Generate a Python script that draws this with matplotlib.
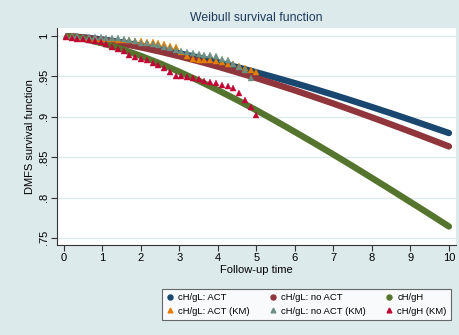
import matplotlib
matplotlib.use("Agg")
import matplotlib.pyplot as plt
from matplotlib.lines import Line2D

plt.rcParams['font.family'] = ['Liberation Sans', 'DejaVu Sans']

# fitted Weibull survival, read at half-year steps
wb_time = [0.1, 0.5, 1.0, 1.5, 2.0, 2.5, 3.0, 3.5, 4.0, 4.5, 5.0,
           5.5, 6.0, 6.5, 7.0, 7.5, 8.0, 8.5, 9.0, 9.5, 10.0]
wb_act = [1.000, 0.9985, 0.9958, 0.9923, 0.9882, 0.9837, 0.9787, 0.9733, 0.9675, 0.9615, 0.9551,
          0.9485, 0.9417, 0.9346, 0.9273, 0.9198, 0.9121, 0.9043, 0.8963, 0.8881, 0.8799]
wb_noact = [1.000, 0.9982, 0.9949, 0.9908, 0.9861, 0.9808, 0.9750, 0.9688, 0.9622, 0.9552, 0.9480,
            0.9404, 0.9327, 0.9246, 0.9164, 0.9079, 0.8993, 0.8905, 0.8816, 0.8725, 0.8633]
wb_gh = [0.9997, 0.9968, 0.9911, 0.9839, 0.9754, 0.9660, 0.9557, 0.9447, 0.9330, 0.9208, 0.9081,
         0.8949, 0.8813, 0.8674, 0.8533, 0.8389, 0.8242, 0.8094, 0.7944, 0.7794, 0.7641]

# Kaplan-Meier estimates
km_time = [0.05, 0.20, 0.35, 0.50, 0.65, 0.80, 0.95, 1.10, 1.25, 1.40, 1.55, 1.70,
           1.85, 2.00, 2.15, 2.30, 2.45, 2.60, 2.75, 2.90, 3.05, 3.20, 3.35, 3.50,
           3.65, 3.80, 3.95, 4.10, 4.25, 4.40, 4.55, 4.70, 4.85, 5.00]
km_act = [1.000, 1.000, 0.999, 0.998, 0.998, 0.997, 0.997, 0.996, 0.996, 0.995, 0.995, 0.995,
          0.994, 0.994, 0.993, 0.993, 0.991, 0.990, 0.988, 0.986, 0.980, 0.975, 0.972, 0.971,
          0.970, 0.970, 0.969, 0.968, 0.966, 0.965, 0.963, 0.961, 0.958, 0.955]
km_noact = [1.000, 1.000, 1.000, 0.999, 0.999, 0.999, 0.999, 0.998, 0.998, 0.998, 0.997, 0.995,
            0.994, 0.992, 0.991, 0.990, 0.989, 0.987, 0.985, 0.983, 0.981, 0.980, 0.979, 0.978,
            0.977, 0.976, 0.975, 0.972, 0.970, 0.966, 0.962, 0.958, 0.948]
km_gh = [0.999, 0.998, 0.997, 0.996, 0.995, 0.994, 0.993, 0.990, 0.987, 0.984, 0.981, 0.977,
         0.974, 0.972, 0.970, 0.967, 0.964, 0.960, 0.955, 0.951, 0.950, 0.949, 0.948, 0.947,
         0.945, 0.943, 0.942, 0.940, 0.938, 0.936, 0.930, 0.921, 0.912, 0.902]

xticks = [0, 1, 2, 3, 4, 5, 6, 7, 8, 9, 10]
yticks = [0.75, 0.8, 0.85, 0.9, 0.95, 1.0]
ytick_labels = ['.75', '.8', '.85', '.9', '.95', '1']

navy = '#1A476F'
maroon = '#90353B'
green = '#55752F'
orange = '#E37E00'
teal = '#6E8E84'
cranberry = '#C10534'
bg = '#DDEAEC'

fig = plt.figure(figsize=(4.6, 3.35), dpi=100, facecolor=bg)
ax = fig.add_axes([0.124, 0.269, 0.867, 0.647])
ax.set_facecolor('white')

lw = 4.6
for y, c in [(wb_act, navy), (wb_noact, maroon), (wb_gh, green)]:
    ax.plot(wb_time, y, color=c, lw=lw, solid_capstyle='round', solid_joinstyle='round', zorder=3)

for y, c in [(km_act, orange), (km_noact, teal), (km_gh, cranberry)]:
    ax.plot(km_time[:len(y)], y, ls='none', marker='^', ms=4.6, color=c, mec=c, mew=0.3, zorder=4)

ax.set_xlim(-0.18, 10.18)
ax.set_ylim(0.7413, 1.0099)
ax.set_xticks(xticks)
ax.set_yticks(yticks)
ax.set_yticklabels(ytick_labels, rotation=90, va='center')
ax.tick_params(axis='both', labelsize=8, length=4, width=0.8, color='#333333', pad=2)
ax.grid(axis='y', color=bg, lw=0.9)
ax.set_axisbelow(True)

for s in ['top', 'right']:
    ax.spines[s].set_visible(False)
for s in ['left', 'bottom']:
    ax.spines[s].set_color('#333333')
    ax.spines[s].set_linewidth(0.8)

ax.set_xlabel('Follow-up time', fontsize=8, labelpad=1)
ax.set_ylabel('DMFS survival function', fontsize=8, labelpad=3)
ax.set_title('Weibull survival function', fontsize=8.8, color='#1E3A5A', pad=5)

handles = [
    Line2D([], [], ls='none', marker='o', ms=3.6, color=navy),
    Line2D([], [], ls='none', marker='^', ms=3.4, color=orange),
    Line2D([], [], ls='none', marker='o', ms=3.6, color=maroon),
    Line2D([], [], ls='none', marker='^', ms=3.4, color=teal),
    Line2D([], [], ls='none', marker='o', ms=3.6, color=green),
    Line2D([], [], ls='none', marker='^', ms=3.4, color=cranberry),
]
labels = ['cH/gL: ACT', 'cH/gL: ACT (KM)', 'cH/gL: no ACT', 'cH/gL: no ACT (KM)',
          'cH/gH', 'cH/gH (KM)']
leg = fig.legend(handles, labels, ncol=3, fontsize=6.8, loc='center',
                 bbox_to_anchor=(0.666, 0.091), frameon=True, fancybox=False,
                 handlelength=0.8, handletextpad=0.5, columnspacing=2.0,
                 labelspacing=0.45, borderpad=0.45)
leg.get_frame().set_edgecolor('#444444')
leg.get_frame().set_linewidth(0.8)

fig.savefig('out.png', dpi=100, facecolor=bg)
